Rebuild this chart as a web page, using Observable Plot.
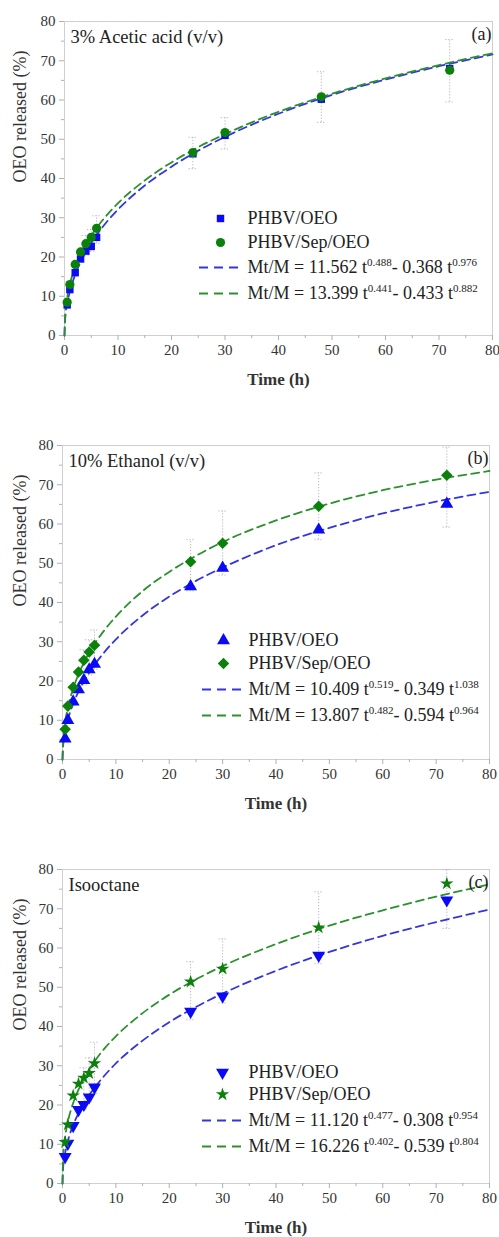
<!DOCTYPE html>
<html><head><meta charset="utf-8">
<script src="https://cdn.jsdelivr.net/npm/d3@7"></script>
<script src="https://cdn.jsdelivr.net/npm/@observablehq/plot@0.6"></script>
<style>
body{margin:0;background:#fff;}
#chart svg{display:block;}
</style></head><body><div id="chart"></div>
<script>
// ---- data ----
const times = [0.5, 1, 2, 3, 4, 5, 6, 24, 30, 48, 72];
const aOEO = [7.8, 11.7, 16.0, 19.5, 21.5, 22.7, 25.0, 46.3, 51.0, 60.2, 68.0];
const aSep = [8.5, 13.0, 18.1, 21.3, 23.4, 25.0, 27.3, 46.6, 51.7, 60.8, 67.6];
const bOEO = [5.3, 10.0, 14.7, 17.8, 20.2, 22.9, 24.3, 44.1, 48.8, 58.5, 65.1];
const bSep = [7.7, 13.6, 18.4, 22.3, 25.3, 27.4, 29.1, 50.4, 55.1, 64.5, 72.4];
const cOEO = [6.8, 10.2, 14.7, 18.8, 20.1, 22.0, 24.5, 43.8, 47.7, 58.1, 72.2];
const cSep = [10.5, 15.0, 22.4, 25.4, 26.9, 28.1, 30.6, 51.4, 54.7, 65.2, 76.4];

const errT = [4, 5, 6, 24, 30, 48, 72];
const aErrLo = [20.5, 21.5, 23.5, 42.5, 47.5, 54.3, 59.5];
const aErrHi = [25.5, 27.0, 30.5, 50.5, 55.5, 67.2, 75.4];
const bErrLo = [19.0, 21.5, 23.0, 43.0, 47.0, 56.0, 59.2];
const bErrHi = [28.0, 30.5, 33.0, 56.0, 63.3, 73.0, 79.6];
const cErrLo = [19.0, 21.0, 23.0, 41.7, 46.0, 56.0, 65.0];
const cErrHi = [29.5, 32.0, 36.0, 56.5, 62.3, 74.3, 80.0];

const fitT = [0, 0.1, 0.25, 0.5, 1, 2, 3, 4, 6, 8, 10, 15, 20, 25, 30, 40, 50, 60, 70, 80];
const aFitOEO = [0, 3.7, 5.8, 8.1, 11.2, 15.5, 18.7, 21.3, 25.6, 29.1, 32.1, 38.2, 43.0, 47.1, 50.6, 56.5, 61.3, 65.2, 68.6, 71.6];
const aFitSep = [0, 4.8, 7.1, 9.6, 13.0, 17.4, 20.6, 23.2, 27.4, 30.8, 33.7, 39.5, 44.1, 48.0, 51.3, 57.0, 61.6, 65.5, 68.9, 71.9];
const bFitOEO = [0, 3.1, 5.0, 7.1, 10.1, 14.2, 17.3, 19.9, 24.1, 27.6, 30.6, 36.7, 41.5, 45.5, 48.9, 54.6, 59.0, 62.7, 65.7, 68.2];
const bFitSep = [0, 4.5, 6.9, 9.6, 13.2, 18.1, 21.7, 24.7, 29.4, 33.2, 36.4, 42.9, 47.8, 51.9, 55.4, 60.9, 65.2, 68.6, 71.3, 73.5];
const cFitOEO = [0, 3.7, 5.7, 7.8, 10.8, 14.9, 17.9, 20.4, 24.4, 27.7, 30.6, 36.4, 41.1, 45.0, 48.4, 54.2, 59.0, 63.1, 66.6, 69.8];
const cFitSep = [0, 6.4, 9.1, 12.0, 15.7, 20.5, 23.9, 26.7, 31.1, 34.6, 37.5, 43.4, 48.1, 52.0, 55.4, 61.0, 65.7, 69.6, 73.1, 76.2];

const xTicks = [0, 10, 20, 30, 40, 50, 60, 70, 80];
const xMinor = [5, 15, 25, 35, 45, 55, 65, 75];
const yTicks = [0, 10, 20, 30, 40, 50, 60, 70, 80];
const yMinor = [5, 15, 25, 35, 45, 55, 65, 75];

const titles = ["3% Acetic acid (v/v)", "10% Ethanol (v/v)", "Isooctane"];
const tags = ["(a)", "(b)", "(c)"];
const seriesNames = ["PHBV/OEO", "PHBV/Sep/OEO"];
const fitLabels = [
  ["Mt/M = 11.562 t^0.488- 0.368 t^0.976", "Mt/M = 13.399 t^0.441- 0.433 t^0.882"],
  ["Mt/M = 10.409 t^0.519- 0.349 t^1.038", "Mt/M = 13.807 t^0.482- 0.594 t^0.964"],
  ["Mt/M = 11.120 t^0.477- 0.308 t^0.954", "Mt/M = 16.226 t^0.402- 0.539 t^0.804"]
];
const xLabel = "Time (h)";
const yLabel = "OEO released (%)";

// ---- styles ----
const BLUE = "#0a0af5", GREEN = "#0b800b";
const BLUE_LINE = "#3535dd", GREEN_LINE = "#2c912c";
const FONT = "Liberation Serif, Times New Roman, serif";

const triangleDown = {
  draw(ctx, size) {
    const y = -Math.sqrt(size / (Math.sqrt(3) * 3));
    ctx.moveTo(0, -y * 2);
    ctx.lineTo(-Math.sqrt(3) * y, y);
    ctx.lineTo(Math.sqrt(3) * y, y);
    ctx.closePath();
  }
};
const dashSym = {
  draw(ctx) {
    for (const [a, b] of [[-19.5, -10.5], [-4.5, 4.5], [10.5, 19.5]]) { ctx.moveTo(a, 0); ctx.lineTo(b, 0); }
  }
};

const zip = (t, v) => t.map((x, i) => ({t: x, v: v[i]}));
const zipErr = (t, lo, hi) => t.map((x, i) => ({t: x, lo: lo[i], hi: hi[i]}));

function panel(cfg) {
  const {height, marginLeft, marginRight, marginBottom, oeo, sep, fitO, fitS, lo, hi,
         symO, symS, rO, rS, idx, leg} = cfg;
  const err = zipErr(errT, lo, hi);
  const errStyle = {stroke: "#b4b4c4", strokeWidth: 1, strokeDasharray: "1.2,1.8"};
  const rowDy = leg.rows;
  const txt = {fontFamily: FONT};
  const svg = Plot.plot({
    width: 499, height, marginLeft, marginRight, marginTop: 21, marginBottom,
    x: {domain: [0, 80]}, y: {domain: [0, 80]},
    style: {fontFamily: FONT, background: "white", overflow: "visible"},
    marks: [
      Plot.frame({stroke: "#cfcfcf"}),
      Plot.axisX({ticks: xTicks, tickSize: 5, tickPadding: 4, fontSize: 15, stroke: "#b0b0b0", fill: "#333", label: null, ...txt}),
      Plot.axisX({ticks: xMinor, tickSize: 3, tickFormat: () => "", stroke: "#b0b0b0", label: null}),
      Plot.axisY({ticks: yTicks, tickSize: 5, tickPadding: 4, fontSize: 15, stroke: "#b0b0b0", fill: "#333", label: null, ...txt}),
      Plot.axisY({ticks: yMinor, tickSize: 3, tickFormat: () => "", stroke: "#b0b0b0", label: null}),
      Plot.ruleX(err, {x: "t", y1: "lo", y2: "hi", ...errStyle}),
      Plot.link(err, {x1: d => d.t - 0.8, x2: d => d.t + 0.8, y1: "lo", y2: "lo", ...errStyle}),
      Plot.link(err, {x1: d => d.t - 0.8, x2: d => d.t + 0.8, y1: "hi", y2: "hi", ...errStyle}),
      Plot.line(zip(fitT, fitO), {x: "t", y: "v", stroke: BLUE_LINE, strokeWidth: 1.8, strokeDasharray: "8,5", curve: "monotone-x"}),
      Plot.line(zip(fitT, fitS), {x: "t", y: "v", stroke: GREEN_LINE, strokeWidth: 1.8, strokeDasharray: "8,5", curve: "monotone-x"}),
      Plot.dot(zip(times, oeo), {x: "t", y: "v", symbol: symO, fill: BLUE, r: rO}),
      Plot.dot(zip(times, sep), {x: "t", y: "v", symbol: symS, fill: GREEN, r: rS}),
      // titles
      Plot.text([titles[idx]], {text: d => d, frameAnchor: "top-left", lineAnchor: "middle", textAnchor: "start", dx: 6, dy: 16, fontSize: 18.5, fill: "#222", ...txt}),
      Plot.text([tags[idx]], {text: d => d, frameAnchor: "top-right", lineAnchor: "middle", textAnchor: "end", dx: -1, dy: 13, fontSize: 18, fill: "#222", ...txt}),
      Plot.text([xLabel], {text: d => d, frameAnchor: "bottom", lineAnchor: "middle", dy: 44, fontSize: 17, fontWeight: "bold", fill: "#333", ...txt}),
      Plot.text([yLabel], {text: d => d, frameAnchor: "left", lineAnchor: "middle", rotate: -90, dx: -44 - (marginLeft - 64), dy: 4, fontSize: 18, fill: "#333", ...txt}),
      // legend
      Plot.dot([0], {frameAnchor: "bottom-left", dx: leg.mx, dy: rowDy[0], symbol: symO, fill: BLUE, r: rO}),
      Plot.dot([0], {frameAnchor: "bottom-left", dx: leg.mx, dy: rowDy[1], symbol: symS, fill: GREEN, r: rS}),
      Plot.dot([0], {frameAnchor: "bottom-left", dx: leg.lx, dy: rowDy[2], symbol: dashSym, fill: "none", stroke: BLUE_LINE, strokeWidth: 1.8}),
      Plot.dot([0], {frameAnchor: "bottom-left", dx: leg.lx, dy: rowDy[3], symbol: dashSym, fill: "none", stroke: GREEN_LINE, strokeWidth: 1.8}),
      ...[seriesNames[0], seriesNames[1], fitLabels[idx][0], fitLabels[idx][1]].map((s, i) =>
        Plot.text([s], {text: d => d, frameAnchor: "bottom-left", lineAnchor: "middle", textAnchor: "start", dx: leg.tx, dy: rowDy[i], fontSize: 18, fill: "#222", ...txt}))
    ]
  });
  // superscripts
  d3.select(svg).selectAll("text").each(function () {
    const s = this.textContent;
    if (!s.includes("^")) return;
    const parts = s.split(/\^([0-9.]+)/);
    this.textContent = "";
    const sel = d3.select(this);
    parts.forEach((p, i) => {
      if (!p) return;
      const ts = sel.append("tspan").text(p);
      if (i % 2 === 1) ts.attr("font-size", 11).attr("dy", -7);
      else if (i > 0) ts.attr("dy", 7);
    });
  });
  return svg;
}

const chart = document.getElementById("chart");
chart.append(panel({height: 424, marginLeft: 64, marginRight: 7, marginBottom: 89,
  oeo: aOEO, sep: aSep, fitO: aFitOEO, fitS: aFitSep, lo: aErrLo, hi: aErrHi,
  symO: "square", symS: "circle", rO: 4.2, rS: 4.6, idx: 0,
  leg: {mx: 156, lx: 154, tx: 183, rows: [-117, -93, -68, -42]}}));
chart.append(panel({height: 424, marginLeft: 62, marginRight: 10, marginBottom: 89,
  oeo: bOEO, sep: bSep, fitO: bFitOEO, fitS: bFitSep, lo: bErrLo, hi: bErrHi,
  symO: "triangle", symS: "diamond2", rO: 4.8, rS: 5.2, idx: 1,
  leg: {mx: 161, lx: 159, tx: 186, rows: [-119, -96, -70, -44]}}));
chart.append(panel({height: 389, marginLeft: 62, marginRight: 10, marginBottom: 54,
  oeo: cOEO, sep: cSep, fitO: cFitOEO, fitS: cFitSep, lo: cErrLo, hi: cErrHi,
  symO: triangleDown, symS: "star", rO: 4.8, rS: 4.2, idx: 2,
  leg: {mx: 160, lx: 159, tx: 186, rows: [-111, -89, -63, -37]}}));
</script></body></html>
